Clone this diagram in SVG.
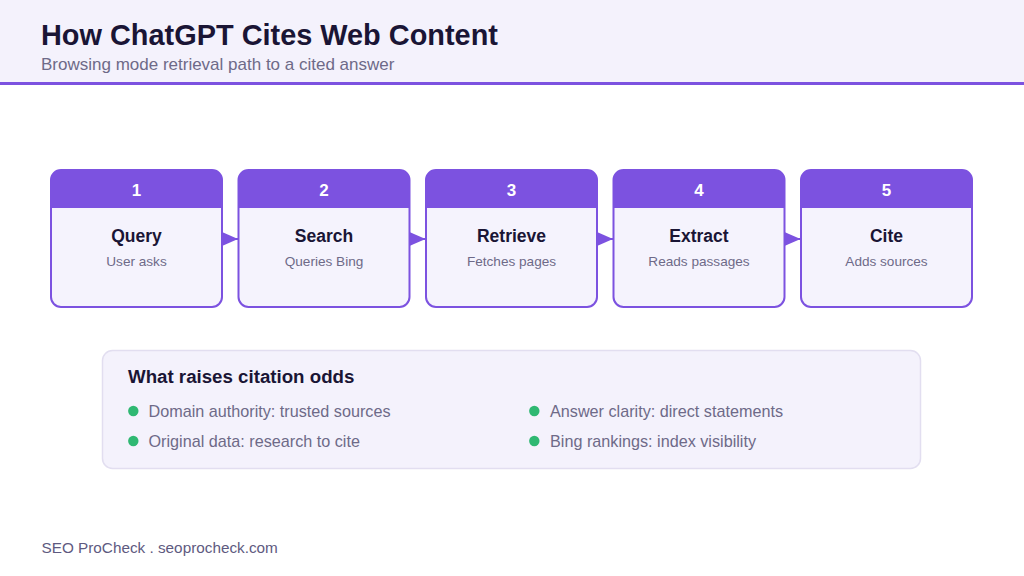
<svg xmlns="http://www.w3.org/2000/svg" width="1024" height="576" viewBox="0 0 1024 576">
<style>
.t{font-family:"Liberation Sans",Arial,sans-serif}
.num{font-size:17px;font-weight:bold;fill:#ffffff;text-anchor:middle}
.nt{font-size:17.5px;font-weight:bold;fill:#1a1535;text-anchor:middle}
.ns{font-size:13.6px;fill:#6e6a88;text-anchor:middle}
.bl{font-size:16.2px;fill:#6e6a88}
.dot{fill:#2fb872}
.box{fill:#f5f3fd;stroke:#7c52e0;stroke-width:2}
.hd{fill:#7c52e0}
.con{stroke:#7c52e0;stroke-width:2;fill:none}
</style>
<defs>
<marker id="ah" markerWidth="17" markerHeight="15" refX="16" refY="7" orient="auto" markerUnits="userSpaceOnUse">
<path d="M0,0 L16,7 L0,14 Z" fill="#7c52e0"/>
</marker>
</defs>
<rect width="1024" height="576" fill="#ffffff"/>
<rect width="1024" height="82" fill="#f4f2fc"/>
<rect y="82" width="1024" height="3" fill="#7c52e0"/>
<text class="t" x="41" y="45" font-size="28.9" font-weight="bold" fill="#1a1535">How ChatGPT Cites Web Content</text>
<text class="t" x="41" y="70" font-size="17" fill="#6e6a88">Browsing mode retrieval path to a cited answer</text>

<g id="connectors">
<line class="con" x1="221" y1="239" x2="238" y2="239" marker-end="url(#ah)"/>
<line class="con" x1="408.5" y1="239" x2="425.5" y2="239" marker-end="url(#ah)"/>
<line class="con" x1="596" y1="239" x2="613" y2="239" marker-end="url(#ah)"/>
<line class="con" x1="783.5" y1="239" x2="800.5" y2="239" marker-end="url(#ah)"/>
</g>

<g id="node1">
<rect class="box" x="51" y="170" width="171" height="137" rx="10"/>
<path class="hd" d="M51,208 V180 a10,10 0 0 1 10,-10 H212 a10,10 0 0 1 10,10 V208 Z"/>
<text class="t num" x="136.5" y="196">1</text>
<text class="t nt" x="136.5" y="241.5">Query</text>
<text class="t ns" x="136.5" y="266">User asks</text>
</g>
<g id="node2">
<rect class="box" x="238.5" y="170" width="171" height="137" rx="10"/>
<path class="hd" d="M238.5,208 V180 a10,10 0 0 1 10,-10 H399.5 a10,10 0 0 1 10,10 V208 Z"/>
<text class="t num" x="324" y="196">2</text>
<text class="t nt" x="324" y="241.5">Search</text>
<text class="t ns" x="324" y="266">Queries Bing</text>
</g>
<g id="node3">
<rect class="box" x="426" y="170" width="171" height="137" rx="10"/>
<path class="hd" d="M426,208 V180 a10,10 0 0 1 10,-10 H587 a10,10 0 0 1 10,10 V208 Z"/>
<text class="t num" x="511.5" y="196">3</text>
<text class="t nt" x="511.5" y="241.5">Retrieve</text>
<text class="t ns" x="511.5" y="266">Fetches pages</text>
</g>
<g id="node4">
<rect class="box" x="613.5" y="170" width="171" height="137" rx="10"/>
<path class="hd" d="M613.5,208 V180 a10,10 0 0 1 10,-10 H774.5 a10,10 0 0 1 10,10 V208 Z"/>
<text class="t num" x="699" y="196">4</text>
<text class="t nt" x="699" y="241.5">Extract</text>
<text class="t ns" x="699" y="266">Reads passages</text>
</g>
<g id="node5">
<rect class="box" x="801" y="170" width="171" height="137" rx="10"/>
<path class="hd" d="M801,208 V180 a10,10 0 0 1 10,-10 H962 a10,10 0 0 1 10,10 V208 Z"/>
<text class="t num" x="886.5" y="196">5</text>
<text class="t nt" x="886.5" y="241.5">Cite</text>
<text class="t ns" x="886.5" y="266">Adds sources</text>
</g>

<g id="factors">
<rect x="102.5" y="350.5" width="818" height="118" rx="10" fill="#f4f2fc" stroke="#e2def0" stroke-width="1.5"/>
<text class="t" x="128" y="382.5" font-size="18.7" font-weight="bold" fill="#1a1535">What raises citation odds</text>
<circle class="dot" cx="133.3" cy="411" r="5.2"/>
<text class="t bl" x="148.5" y="416.5">Domain authority: trusted sources</text>
<circle class="dot" cx="133.3" cy="441" r="5.2"/>
<text class="t bl" x="148.5" y="446.5">Original data: research to cite</text>
<circle class="dot" cx="534.3" cy="411" r="5.2"/>
<text class="t bl" x="550" y="416.5">Answer clarity: direct statements</text>
<circle class="dot" cx="534.3" cy="441" r="5.2"/>
<text class="t bl" x="550" y="446.5">Bing rankings: index visibility</text>
</g>

<text class="t" x="41.5" y="552.7" font-size="15.3" fill="#5e5a80">SEO ProCheck . seoprocheck.com</text>
</svg>
